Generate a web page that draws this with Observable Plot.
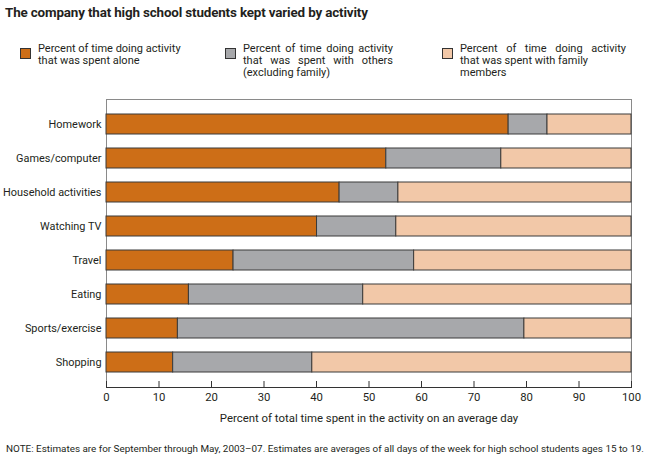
<!DOCTYPE html>
<html>
<head>
<meta charset="utf-8">
<script src="https://cdn.jsdelivr.net/npm/d3@7"></script>
<script src="https://cdn.jsdelivr.net/npm/@observablehq/plot@0.6"></script>
<style>
  html, body { margin: 0; padding: 0; background: #fff; }
  body { width: 669px; height: 454px; position: relative; overflow: hidden; font-family: Roboto, "Liberation Sans", sans-serif; color: #231f20; }
  #title { position: absolute; left: 5px; top: 5px; font-size: 13.4px; font-weight: bold; letter-spacing: -0.15px; }
  .leg { position: absolute; top: 43px; font-size: 11px; line-height: 12px; }
  .leg .sw { position: absolute; left: 0; top: 5px; width: 11px; height: 11px; border: 1px solid #333; box-sizing: border-box; }
  .leg .tx { position: absolute; left: 18px; top: 0; white-space: nowrap; }
  .leg .ln { display: block; }
  .leg .j { text-align: justify; text-align-last: justify; }
  #chart { position: absolute; left: 0; top: 90px; }
  #note { position: absolute; left: 6px; top: 443px; font-size: 9.9px; white-space: nowrap; }
</style>
</head>
<body>
<div id="title"></div>
<div id="legend"></div>
<div id="chart"></div>
<div id="note"></div>
<script>
const activities = ["Homework", "Games/computer", "Household activities", "Watching TV", "Travel", "Eating", "Sports/exercise", "Shopping"];
const alone  = [76.6, 53.3, 44.4, 40.1, 24.2, 15.7, 13.6, 12.7];
const others = [7.4, 21.9, 11.2, 15.1, 34.4, 33.2, 66.0, 26.5];
const family = [16.0, 24.8, 44.4, 44.8, 41.4, 51.1, 20.4, 60.8];
const groups = ["alone", "others", "family"];
const groupLabels = [
  ["Percent of time doing activity", "that was spent alone"],
  ["Percent of time doing activity", "that was spent with others", "(excluding family)"],
  ["Percent of time doing activity", "that was spent with family", "members"]
];
const colors = ["#cd6e17", "#a7a8ab", "#f2c8a8"];
const xTicks = [0, 10, 20, 30, 40, 50, 60, 70, 80, 90, 100];
const titleText = "The company that high school students kept varied by activity";
const xLabel = "Percent of total time spent in the activity on an average day";
const noteText = "NOTE:  Estimates are for September through May, 2003–07. Estimates are averages of all days of the week for high school students ages 15 to 19.";

document.getElementById("title").textContent = titleText;
document.getElementById("note").textContent = noteText;

const legendX = [20, 225, 442];
const legendW = [null, 150, 166];
const justified = [[], [0, 1], [0]];
const legend = document.getElementById("legend");
groups.forEach((g, i) => {
  const d = document.createElement("div");
  d.className = "leg";
  d.style.left = legendX[i] + "px";
  const lines = groupLabels[i].map((t, k) =>
    `<span class="ln${justified[i].includes(k) ? " j" : ""}">${t}</span>`).join("");
  const w = legendW[i] ? `width:${legendW[i]}px;white-space:normal;` : "";
  d.innerHTML = `<div class="sw" style="background:${colors[i]}"></div><div class="tx" style="${w}">${lines}</div>`;
  legend.appendChild(d);
});

const series = {alone, others, family};
const data = [];
activities.forEach((a, i) => {
  groups.forEach(g => data.push({activity: a, group: g, value: series[g][i]}));
});

const chart = Plot.plot({
  width: 669,
  height: 340,
  marginLeft: 106,
  marginRight: 38,
  marginTop: 9,
  marginBottom: 43,
  style: {fontFamily: "Roboto, 'Liberation Sans', sans-serif", fontSize: "11px", color: "#231f20", background: "#fff"},
  x: {domain: [0, 100], ticks: xTicks, label: null},
  y: {domain: activities, paddingInner: 0.417, paddingOuter: 0.408, label: null},
  color: {domain: groups, range: colors},
  marks: [
    Plot.frame({stroke: "#8a8a8a", strokeWidth: 1}),
    Plot.barX(data, Plot.stackX({x: "value", y: "activity", fill: "group", stroke: "#3a3a3a", strokeWidth: 1, order: null})),
    Plot.axisY({tickSize: 0, tickPadding: 5, fontSize: 10.9}),
    Plot.axisX({ticks: xTicks, tickSize: -6, tickPadding: 11, fontSize: 11.3, label: null, stroke: "#333"}),
    Plot.frame({anchor: "bottom", stroke: "#333"}),
    Plot.text([xLabel], {frameAnchor: "bottom", dy: 34, fontSize: 11.4, text: d => d})
  ]
});
document.getElementById("chart").appendChild(chart);
</script>
</body>
</html>
